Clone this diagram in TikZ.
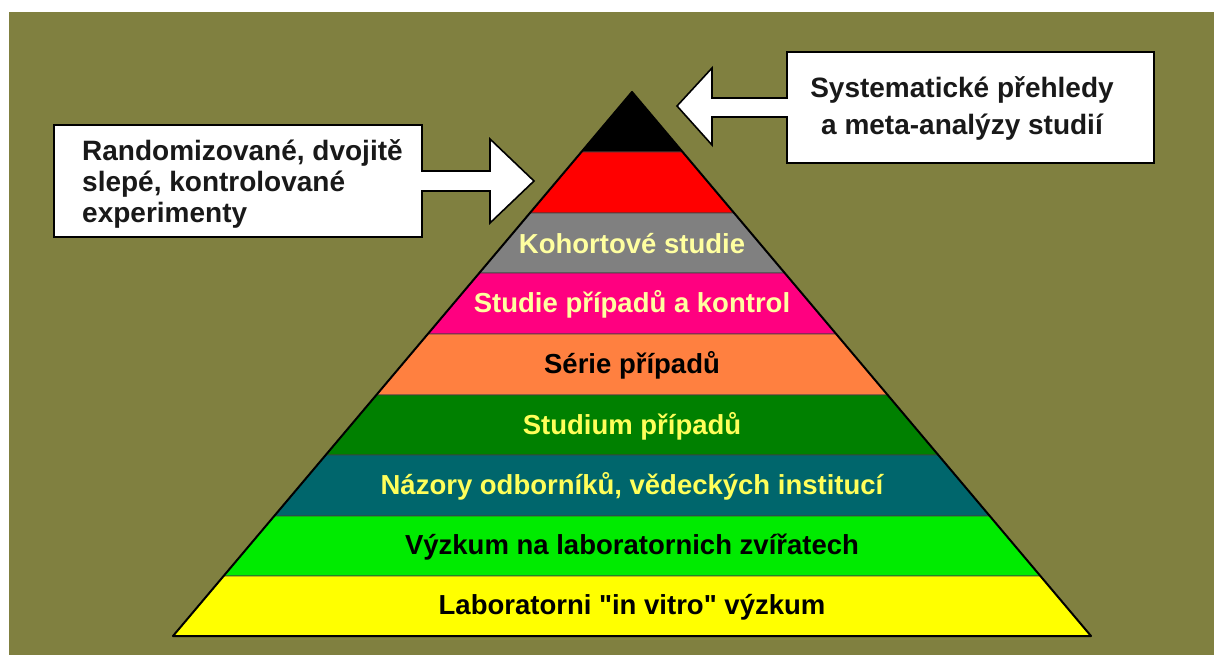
\documentclass[tikz,border=0pt]{standalone}
\usepackage{fontspec}
\setmainfont{Liberation Sans}[Ligatures=TeXOff]
\definecolor{bgolive}{RGB}{128,128,64}
\definecolor{bandgrey}{RGB}{128,128,128}
\definecolor{bandpink}{RGB}{255,0,128}
\definecolor{bandorange}{RGB}{255,128,64}
\definecolor{banddgreen}{RGB}{0,128,0}
\definecolor{bandteal}{RGB}{0,102,108}
\definecolor{bandlime}{RGB}{0,235,0}
\definecolor{bandyellow}{RGB}{255,255,0}
\definecolor{paleyellow}{RGB}{255,255,160}
\definecolor{txtyellow}{RGB}{255,255,90}
\begin{document}
\begin{tikzpicture}[x=1pt,y=-1pt,
  band/.style={draw=black!75, line width=0.8pt},
  lbl/.style={font=\fontsize{27.5}{30}\selectfont\bfseries, inner sep=0pt, anchor=center},
  callout/.style={fill=white, draw=black, line width=1.6pt, line join=miter},
  calltext/.style={font=\fontsize{28}{31}\selectfont\bfseries, inner sep=0pt, text=black!90}]
\useasboundingbox (0,0) rectangle (1214,655);
\fill[white] (0,0) rectangle (1214,655);
\fill[bgolive] (9,12) rectangle (1214,655);
% pyramid bands
\foreach \ya/\yb/\col in {92/152/black, 152/213/red, 213/273/bandgrey, 273/334/bandpink,
  334/395/bandorange, 395/455/banddgreen, 455/516/bandteal, 516/576/bandlime, 576/636/bandyellow}
{
  \filldraw[band, fill=\col] ({632-0.84375*(\ya-92)},\ya) -- ({632+0.84375*(\ya-92)},\ya)
    -- ({632+0.84375*(\yb-92)},\yb) -- ({632-0.84375*(\yb-92)},\yb) -- cycle;
}
\draw[line width=2pt, line join=round] (632,92) -- (1091,636) -- (173,636) -- cycle;
% band labels
\node[lbl, text=paleyellow] (kohort) at (632,244) {Kohortové studie};
\node[lbl, text=paleyellow] (casectrl) at (632,304) {Studie případů a kontrol};
\node[lbl, text=black] (serie) at (632,365) {Série případů};
\node[lbl, text=txtyellow] (studium) at (632,426) {Studium případů};
\node[lbl, text=txtyellow] (nazory) at (632,486) {Názory odborníků, vědeckých institucí};
\node[lbl, text=black] (zvirata) at (632,547) {Výzkum na laboratornich zvířatech};
\node[lbl, text=black] (vitro) at (632,607) {Laboratorni "in vitro" výzkum};
% callouts
\draw[callout] (54,125) -- (422,125) -- (422,171) -- (490,171) -- (490,139) -- (534,181)
  -- (490,223) -- (490,191) -- (422,191) -- (422,237) -- (54,237) -- cycle;
\node[calltext, anchor=west, align=left] (rct) at (82,184)
  {Randomizované, dvojitě\\slepé, kontrolované\\experimenty};
\draw[callout] (1154,52) -- (1154,163) -- (787,163) -- (787,117) -- (712,117) -- (712,145)
  -- (677,106) -- (712,68) -- (712,98) -- (787,98) -- (787,52) -- cycle;
\node[calltext, align=center, font=\fontsize{28}{37}\selectfont\bfseries] (sys) at (962,108)
  {Systematické přehledy\\a meta-analýzy studií};
\end{tikzpicture}
\end{document}
